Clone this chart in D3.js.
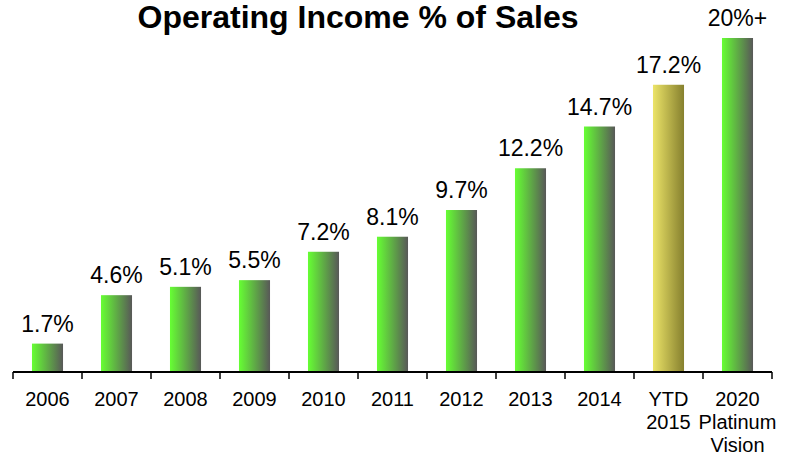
<!DOCTYPE html>
<html>
<head>
<meta charset="utf-8">
<script src="https://cdn.jsdelivr.net/npm/d3@7"></script>
<style>
  body { margin: 0; background: #fff; }
  text { font-family: "Liberation Sans", Arial, sans-serif; }
</style>
</head>
<body>
<div id="chart"></div>
<script>
// DATA
var categories = ["2006", "2007", "2008", "2009", "2010", "2011", "2012", "2013", "2014", "YTD\n2015", "2020\nPlatinum\nVision"];
var values = [1.7, 4.6, 5.1, 5.5, 7.2, 8.1, 9.7, 12.2, 14.7, 17.2, 20];
var valueLabels = ["1.7%", "4.6%", "5.1%", "5.5%", "7.2%", "8.1%", "9.7%", "12.2%", "14.7%", "17.2%", "20%+"];
var ytdIndex = 9;

var width = 786, height = 455;

var svg = d3.select("#chart")
  .append("svg")
  .attr("width", width)
  .attr("height", height);

// gradients
var defs = svg.append("defs");
var green = defs.append("linearGradient").attr("id", "gGreen")
  .attr("x1", "0%").attr("x2", "100%").attr("y1", "0%").attr("y2", "0%");
green.append("stop").attr("offset", "0%").attr("stop-color", "#66ff33");
green.append("stop").attr("offset", "100%").attr("stop-color", "#585858");

var gold = defs.append("linearGradient").attr("id", "gGold")
  .attr("x1", "0%").attr("x2", "100%").attr("y1", "0%").attr("y2", "0%");
gold.append("stop").attr("offset", "0%").attr("stop-color", "#ece468");
gold.append("stop").attr("offset", "100%").attr("stop-color", "#86802e");

var xScale = d3.scaleBand()
  .domain(categories)
  .range([13, 772])
  .paddingInner(0.55)
  .paddingOuter(0.275);

var yScale = d3.scaleLinear()
  .domain([0, 22])
  .range([372, 4.6]);

// title
svg.append("text")
  .attr("x", 358)
  .attr("y", 28)
  .attr("text-anchor", "middle")
  .style("font-size", "32px")
  .style("font-weight", "bold")
  .text("Operating Income % of Sales");

// bars
svg.selectAll("rect.bar")
  .data(values)
  .enter()
  .append("rect")
  .attr("class", "bar")
  .attr("x", function(d, i) { return xScale(categories[i]); })
  .attr("width", xScale.bandwidth())
  .attr("y", function(d) { return yScale(d); })
  .attr("height", function(d) { return yScale(0) - yScale(d); })
  .attr("fill", function(d, i) { return i === ytdIndex ? "url(#gGold)" : "url(#gGreen)"; });

// value labels
svg.selectAll("text.val")
  .data(values)
  .enter()
  .append("text")
  .attr("class", "val")
  .attr("x", function(d, i) { return xScale(categories[i]) + xScale.bandwidth() / 2; })
  .attr("y", function(d) { return yScale(d) - 12; })
  .attr("text-anchor", "middle")
  .style("font-size", "23px")
  .text(function(d, i) { return valueLabels[i]; });

// x axis with ticks between categories
var axisG = svg.append("g").attr("transform", "translate(0,372)");
axisG.append("line")
  .attr("x1", xScale.range()[0]).attr("x2", xScale.range()[1])
  .attr("stroke", "#000").attr("stroke-width", 2);
var step = xScale.step();
var bounds = d3.range(categories.length + 1).map(function(i) { return xScale.range()[0] + i * step; });
axisG.selectAll("line.tick")
  .data(bounds)
  .enter()
  .append("line")
  .attr("class", "tick")
  .attr("x1", function(d) { return d; }).attr("x2", function(d) { return d; })
  .attr("y1", 0).attr("y2", 7)
  .attr("stroke", "#000").attr("stroke-width", 1.5);

axisG.selectAll("text.cat")
  .data(categories)
  .enter()
  .append("text")
  .attr("class", "cat")
  .attr("x", function(d) { return xScale(d) + xScale.bandwidth() / 2; })
  .attr("y", 34)
  .attr("text-anchor", "middle")
  .style("font-size", "20px")
  .each(function(d) {
    var t = d3.select(this);
    d.split("\n").forEach(function(line, j) {
      t.append("tspan")
        .attr("x", xScale(d) + xScale.bandwidth() / 2)
        .attr("dy", j === 0 ? 0 : 23)
        .text(line);
    });
  });
</script>
</body>
</html>
